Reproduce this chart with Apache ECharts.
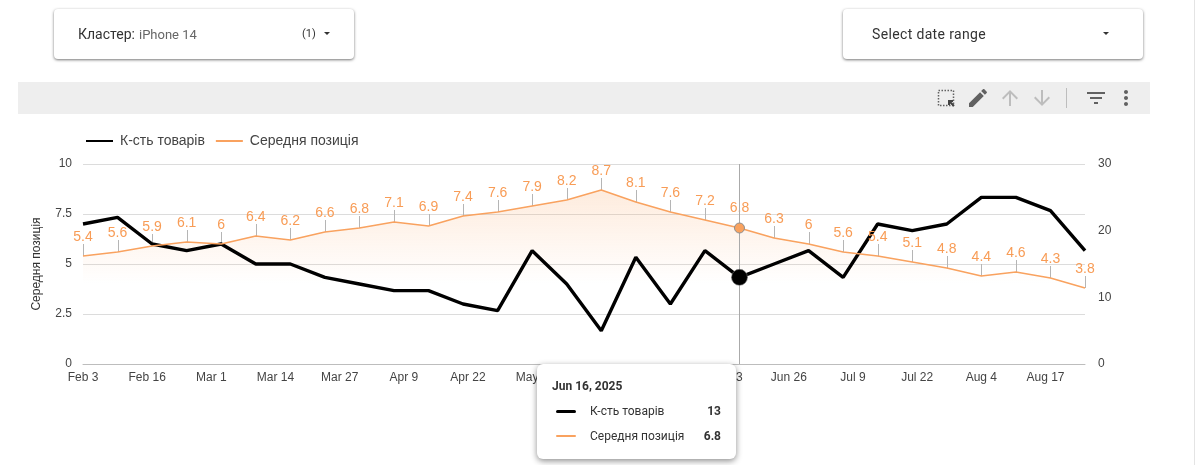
<!DOCTYPE html>
<html>
<head>
<meta charset="utf-8">
<script src="https://cdn.jsdelivr.net/npm/echarts@6/dist/echarts.min.js"></script>
<style>
  html, body { margin: 0; padding: 0; background: #fff; overflow: hidden; }
  #chart { position: absolute; left: 0; top: 0; width: 1196px; height: 465px; }
  .card {
    position: absolute; top: 9px; width: 300px; height: 50px; background: #fff; border-radius: 4px;
    box-shadow: 0 1px 3px rgba(0,0,0,.55); font-family: Roboto, sans-serif; color: #333; z-index: 2;
  }
  .card span { position: absolute; white-space: nowrap; }
  .caret { position: absolute; top: 23px; width: 0; height: 0; border-left: 3.5px solid transparent; border-right: 3.5px solid transparent; border-top: 3.5px solid #333; }
  #toolbar { position: absolute; left: 18px; top: 82px; width: 1132px; height: 32px; background: #eee; z-index: 2; }
  #toolbar svg { position: absolute; top: 4px; width: 24px; height: 24px; }
  #divider { position: absolute; left: 1048px; top: 6px; width: 1px; height: 20px; background: #bdbdbd; }
  #edge { position: absolute; left: 1194px; top: 0; width: 1px; height: 465px; background: #e4e4e4; z-index: 2; }
</style>
</head>
<body>
<div id="chart"></div>

<div class="card" style="left:54px">
  <span style="left:24px;top:17px;font-size:14px">Кластер:</span>
  <span style="left:85px;top:18px;font-size:13px;color:#666">iPhone 14</span>
  <span style="left:248px;top:18px;font-size:11px">(1)</span>
  <div class="caret" style="left:270px"></div>
</div>
<div class="card" style="left:843px">
  <span style="left:29px;top:17px;font-size:14px;letter-spacing:.35px">Select date range</span>
  <div class="caret" style="left:260px"></div>
</div>

<div id="toolbar">
  <svg style="left:916px" viewBox="0 0 24 24" fill="none">
    <rect x="4.5" y="4.5" width="15" height="15" stroke="#616161" stroke-width="1.5" stroke-dasharray="1.5 1.5"/>
    <path d="M20 20l-5-5M15 19v-4h4" stroke="#424242" stroke-width="2"/>
  </svg>
  <svg style="left:948px" viewBox="0 0 24 24" fill="#616161"><path d="M3 17.25V21h3.75L17.81 9.94l-3.75-3.75L3 17.25zM20.71 7.04c.39-.39.39-1.02 0-1.41l-2.34-2.34c-.39-.39-1.02-.39-1.41 0l-1.83 1.83 3.75 3.75 1.83-1.83z"/></svg>
  <svg style="left:980px" viewBox="0 0 24 24" fill="#bdbdbd"><path d="M4 12l1.41 1.41L11 7.83V20h2V7.83l5.58 5.59L20 12l-8-8-8 8z"/></svg>
  <svg style="left:1012px" viewBox="0 0 24 24" fill="#bdbdbd"><path d="M20 12l-1.41-1.41L13 16.17V4h-2v12.17l-5.58-5.59L4 12l8 8 8-8z"/></svg>
  <div id="divider"></div>
  <svg style="left:1066px" viewBox="0 0 24 24" fill="#616161"><path d="M10 18h4v-2h-4v2zM3 6v2h18V6H3zm3 7h12v-2H6v2z"/></svg>
  <svg style="left:1096px" viewBox="0 0 24 24" fill="#616161"><path d="M12 8c1.1 0 2-.9 2-2s-.9-2-2-2-2 .9-2 2 .9 2 2 2zm0 2c-1.1 0-2 .9-2 2s.9 2 2 2 2-.9 2-2-.9-2-2-2zm0 6c-1.1 0-2 .9-2 2s.9 2 2 2 2-.9 2-2-.9-2-2-2z"/></svg>
</div>
<div id="edge"></div>

<script>
const weeks = [
  '2025-02-03', '2025-02-10', '2025-02-17', '2025-02-24', '2025-03-03', '2025-03-10',
  '2025-03-17', '2025-03-24', '2025-03-31', '2025-04-07', '2025-04-14', '2025-04-21',
  '2025-04-28', '2025-05-05', '2025-05-12', '2025-05-19', '2025-05-26', '2025-06-02',
  '2025-06-09', '2025-06-16', '2025-06-23', '2025-06-30', '2025-07-07', '2025-07-14',
  '2025-07-21', '2025-07-28', '2025-08-04', '2025-08-11', '2025-08-18', '2025-08-25'
]
const tickDates = [
  '2025-02-03', '2025-02-16', '2025-03-01', '2025-03-14', '2025-03-27', '2025-04-09',
  '2025-04-22', '2025-05-05', '2025-05-18', '2025-05-31', '2025-06-13', '2025-06-26',
  '2025-07-09', '2025-07-22', '2025-08-04', '2025-08-17'
]
const productCount = [21, 22, 18, 17, 18, 15, 15, 13, 12, 11, 11, 9, 8, 17, 12, 5, 16, 9, 17, 13, 15, 17, 13, 21, 20, 21, 25, 25, 23, 17]
const avgPosition = [5.4, 5.6, 5.9, 6.1, 6, 6.4, 6.2, 6.6, 6.8, 7.1, 6.9, 7.4, 7.6, 7.9, 8.2, 8.7, 8.1, 7.6, 7.2, 6.8, 6.3, 6, 5.6, 5.4, 5.1, 4.8, 4.4, 4.6, 4.3, 3.8]
const hoverIndex = 19

const ORANGE = '#f9a25f'
const LABEL_ORANGE = '#f89c56'
const NAME_COUNT = 'К-сть товарів'
const NAME_POSITION = 'Середня позиція'

const toTime = (d) => +new Date(d)
const zip = (values) => values.map((v, i) => [toTime(weeks[i]), v])
const fontFamily = '"Liberation Sans", Arial, sans-serif'

const chart = echarts.init(document.getElementById('chart'))

chart.setOption({
  animation: false,
  textStyle: { fontFamily },
  legend: {
    left: 80,
    top: 129,
    itemWidth: 27,
    itemHeight: 14,
    itemGap: 10,
    itemStyle: { opacity: 0 },
    textStyle: { color: '#444', fontSize: 14, fontFamily, padding: [0, 0, 0, 2] },
    data: [NAME_COUNT, NAME_POSITION]
  },
  grid: { left: 83, right: 111, top: 164, height: 200 },
  xAxis: {
    // value axis holding timestamps: the tick dates do not fall on the weekly points
    type: 'value',
    min: toTime(weeks[0]),
    max: toTime(weeks[weeks.length - 1]),
    axisLine: { onZero: false, lineStyle: { color: '#bdbdbd' } },
    axisTick: { show: false },
    splitLine: { show: false },
    axisLabel: {
      customValues: tickDates.map(toTime),
      formatter: (v) => echarts.time.format(v, '{MMM} {d}', true),
      color: '#444',
      fontSize: 12,
      margin: 8,
      hideOverlap: false
    }
  },
  yAxis: [
    {
      type: 'value',
      min: 0,
      max: 10,
      interval: 2.5,
      name: NAME_POSITION,
      nameLocation: 'middle',
      nameGap: 40,
      nameTextStyle: { color: '#333', fontSize: 12, fontFamily },
      axisLine: { show: false },
      axisTick: { show: false },
      splitLine: { lineStyle: { color: '#dcdcdc' } },
      axisLabel: { color: '#444', fontSize: 12, margin: 11, lineHeight: 12, padding: [3, 0, 0, 0], verticalAlign: 'middle' }
    },
    {
      type: 'value',
      min: 0,
      max: 30,
      interval: 10,
      position: 'right',
      axisLine: { show: false },
      axisTick: { show: false },
      splitLine: { show: false },
      axisLabel: { color: '#444', fontSize: 12, margin: 13, lineHeight: 12, padding: [3, 0, 0, 0], verticalAlign: 'middle' }
    }
  ],
  tooltip: {
    trigger: 'axis',
    alwaysShowContent: true,
    transitionDuration: 0,
    position: [537, 364],
    padding: 0,
    borderWidth: 0,
    backgroundColor: '#fff',
    extraCssText: 'border-radius:6px;box-shadow:0 2px 6px rgba(0,0,0,.45);',
    axisPointer: { type: 'line', lineStyle: { color: '#aaa', width: 1, type: 'solid' }, label: { show: false } },
    formatter: (params) => {
      const count = params.find((p) => p.seriesName === NAME_COUNT)
      const position = params.find((p) => p.seriesName === NAME_POSITION)
      const row = (name, value, color, height) => `
        <div style="position:relative;height:25px;line-height:25px;">
          <div style="position:absolute;left:4px;top:${12 - height / 2}px;width:20px;height:${height}px;background:${color};border-radius:2px"></div>
          <span style="position:absolute;left:38px;color:#333">${name}</span>
          <b style="position:absolute;right:0;color:#333">${value}</b>
        </div>`
      return `<div style="box-sizing:border-box;width:199px;height:95px;padding:15px 15px 0;font:12px Roboto,sans-serif;">
        <div style="font-weight:700;color:#333;line-height:14px;margin-bottom:6px">${echarts.time.format(count.value[0], '{MMM} {d}, {yyyy}', true)}</div>
        ${row(count.seriesName, count.value[1], '#000', 3)}
        ${row(position.seriesName, position.value[1], ORANGE, 2)}
      </div>`
    }
  },
  series: [
    {
      // grey stems between each orange point and its label
      type: 'custom',
      yAxisIndex: 0,
      silent: true,
      tooltip: { show: false },
      data: zip(avgPosition),
      encode: { x: 0, y: 1 },
      renderItem: (params, api) => {
        const p = api.coord([api.value(0), api.value(1)])
        const x = Math.round(p[0]) + 0.5
        return {
          type: 'line',
          shape: { x1: x, y1: p[1], x2: x, y2: p[1] - 12 },
          style: { stroke: '#b5b5b5', lineWidth: 1 }
        }
      }
    },
    {
      name: NAME_COUNT,
      type: 'line',
      yAxisIndex: 1,
      data: zip(productCount),
      symbol: 'circle',
      symbolSize: 0,
      itemStyle: { color: '#000' },
      lineStyle: { color: '#000', width: 3.4 },
      emphasis: { disabled: true }
    },
    {
      name: NAME_POSITION,
      type: 'line',
      yAxisIndex: 0,
      data: zip(avgPosition),
      symbol: 'circle',
      symbolSize: 0,
      itemStyle: { color: ORANGE },
      lineStyle: { color: ORANGE, width: 1.6 },
      emphasis: { disabled: true },
      areaStyle: {
        color: {
          type: 'linear', x: 0, y: 0, x2: 0, y2: 1,
          colorStops: [
            { offset: 0, color: 'rgba(249,162,95,.3)' },
            { offset: 0.54, color: 'rgba(249,162,95,0)' },
            { offset: 1, color: 'rgba(249,162,95,0)' }
          ]
        }
      },
      label: {
        show: true,
        position: 'top',
        distance: 12,
        color: LABEL_ORANGE,
        fontSize: 14,
        fontFamily
      }
    },
    {
      // hovered points, same as the tooltip's week
      type: 'scatter',
      yAxisIndex: 1,
      silent: true,
      tooltip: { show: false },
      symbolSize: 16,
      itemStyle: { color: '#000', opacity: 1, borderColor: 'rgba(120,120,120,.6)', borderWidth: 1 },
      data: [zip(productCount)[hoverIndex]],
      zlevel: 1
    },
    {
      type: 'scatter',
      yAxisIndex: 0,
      silent: true,
      tooltip: { show: false },
      symbolSize: 10,
      itemStyle: { color: ORANGE, opacity: 1, borderColor: '#8d8d8d', borderWidth: 1 },
      data: [zip(avgPosition)[hoverIndex]],
      zlevel: 1
    }
  ]
})

chart.dispatchAction({ type: 'showTip', seriesIndex: 1, dataIndex: hoverIndex })
</script>
</body>
</html>
